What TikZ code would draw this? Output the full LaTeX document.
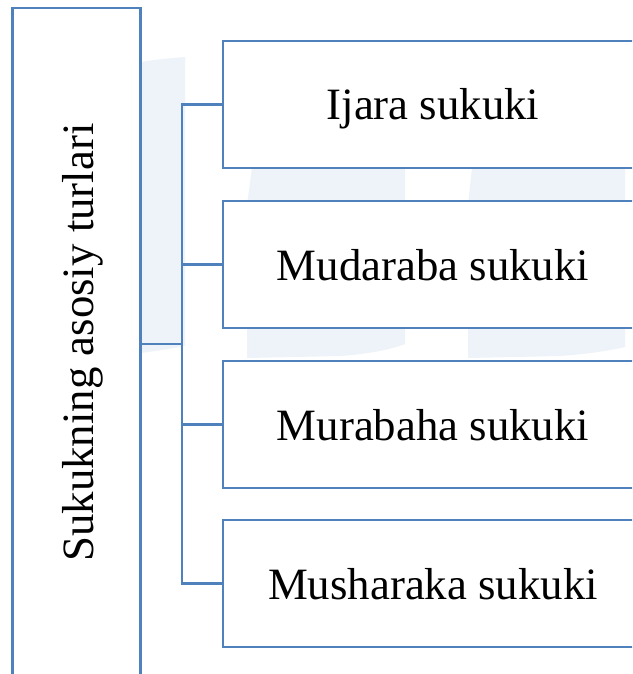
\documentclass[tikz,border=0pt]{standalone}
\usepackage{fontspec}
\setmainfont{Liberation Serif}
\definecolor{accent}{RGB}{79,129,189}
\definecolor{wm}{RGB}{237,243,248}
\tikzset{
  frame/.style={draw=accent, line width=2.5pt, fill=white, inner sep=0pt,
    font=\fontsize{44.8}{50}\selectfont, text depth=0pt},
  kind/.style={frame, minimum width=420pt, minimum height=127pt, text height=31pt},
  link/.style={draw=accent, line width=2.5pt},
  faint/.style={fill=wm, draw=none}
}
\begin{document}
\begin{tikzpicture}[x=1pt, y=-1pt]
\clip (0,0) rectangle (632,674);
\fill[white] (0,0) rectangle (632,674);

% faint background shapes
\path[faint] (141,62) .. controls (160,59) and (172,58) .. (185,57) -- (185,346)
  .. controls (170,349) and (155,351) .. (141,353) -- cycle;
\path[faint] (256,120) -- (252,168) -- (247,205) -- (247,358)
  -- (340,356) .. controls (370,354) and (392,349) .. (405,344) -- (405,120) -- cycle;
\path[faint] (476,120) -- (472,168) -- (468,205) -- (468,358)
  -- (560,356) .. controls (590,354) and (612,350) .. (625,347) -- (625,120) -- cycle;

% main heading box
\node[frame, rotate=90, minimum width=669pt, minimum height=128pt, text height=33pt]
  (main) at (76.5,342.5) {Sukukning asosiy turlari};

% the four kinds
\node[kind] (b1) at (433,104.5) {Ijara sukuki};
\node[kind] (b2) at (433,264.5) {Mudaraba sukuki};
\node[kind] (b3) at (433,424.5) {Murabaha sukuki};
\node[kind] (b4) at (433,583.5) {Musharaka sukuki};

% connectors
\coordinate (hub) at (182,344);
\draw[link] (main.south |- hub) -- (hub);
\draw[link] (b1.west) -- (b1.west -| hub) -- (b4.west -| hub) -- (b4.west);
\draw[link] (b2.west) -- (b2.west -| hub);
\draw[link] (b3.west) -- (b3.west -| hub);
\end{tikzpicture}
\end{document}
